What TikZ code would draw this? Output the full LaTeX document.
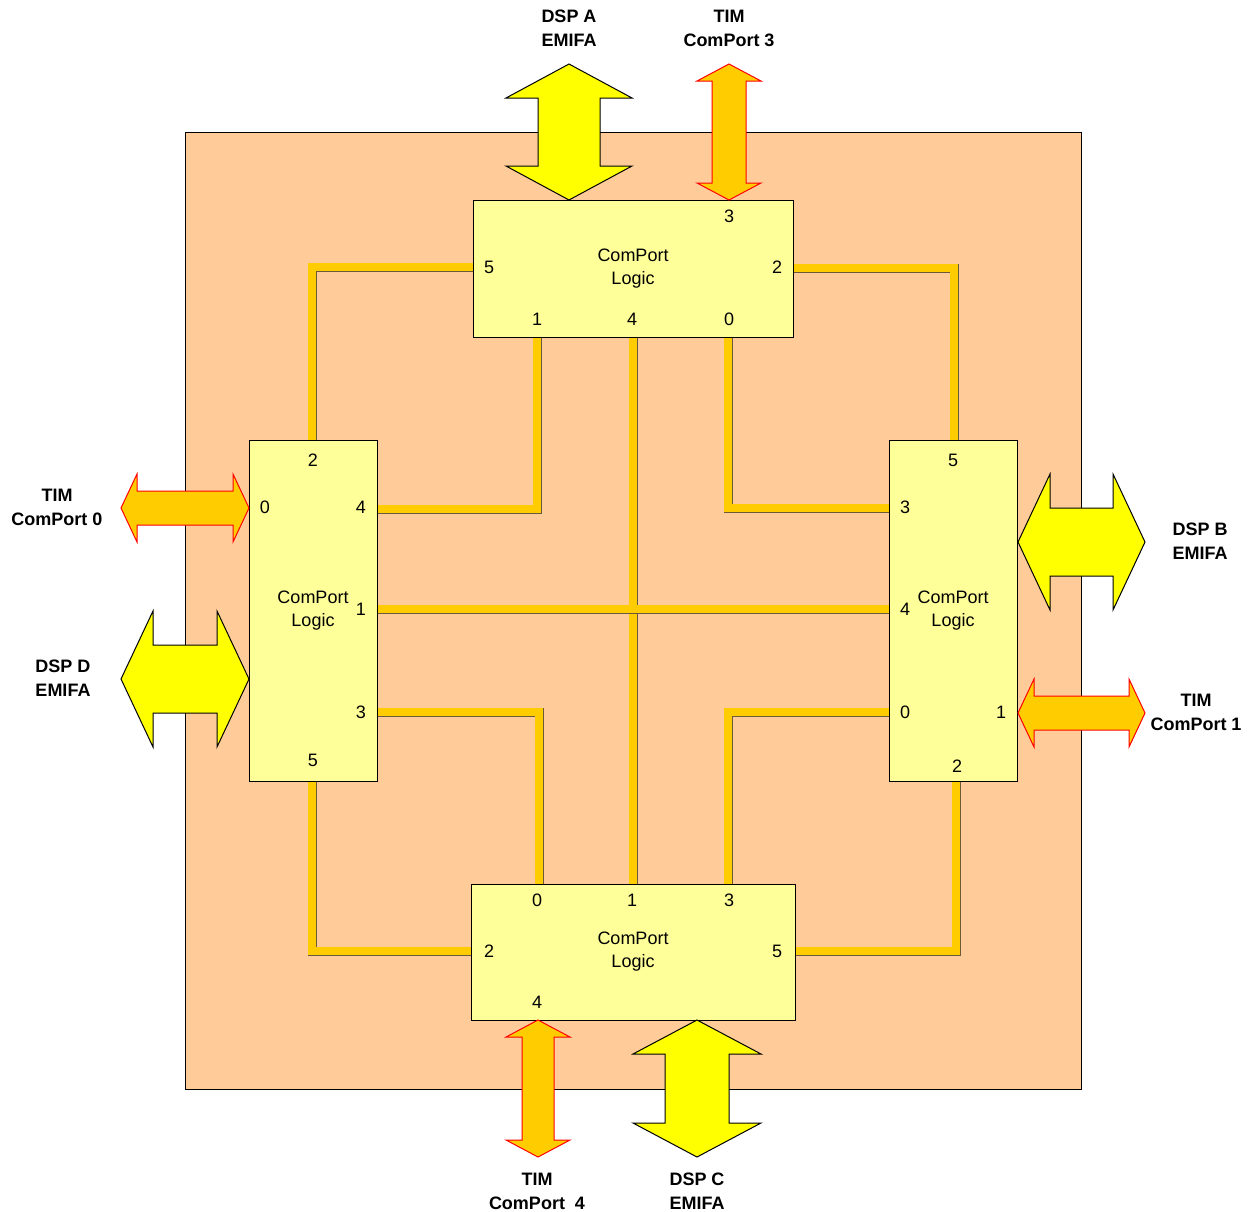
\documentclass[tikz,border=0pt]{standalone}
\usepackage{fontspec}
\setmainfont{Liberation Sans}
\definecolor{bgorange}{HTML}{FFCC99}
\definecolor{boxyellow}{HTML}{FFFF99}
\definecolor{wireyellow}{HTML}{FFCC00}
\definecolor{arryellow}{HTML}{FFFF00}
\definecolor{shadowc}{HTML}{6B5A3A}
\newcommand\varrow[7]{% style, cx, ytop, ybot, hw, sw, hl
\draw[#1] (#2,#3) -- (#2+#5,#3+#7) -- (#2+#6,#3+#7) -- (#2+#6,#4-#7) -- (#2+#5,#4-#7) -- (#2,#4) -- (#2-#5,#4-#7) -- (#2-#6,#4-#7) -- (#2-#6,#3+#7) -- (#2-#5,#3+#7) -- cycle;}
\newcommand\harrow[7]{% style, cy, xleft, xright, hw, sw, hl
\draw[#1] (#3,#2) -- (#3+#7,#2-#5) -- (#3+#7,#2-#6) -- (#4-#7,#2-#6) -- (#4-#7,#2-#5) -- (#4,#2) -- (#4-#7,#2+#5) -- (#4-#7,#2+#6) -- (#3+#7,#2+#6) -- (#3+#7,#2+#5) -- cycle;}
\newcommand\wirepath[1]{\draw[wireshadow] #1; \draw[wire] #1;}
\begin{document}
\begin{tikzpicture}[x=1pt,y=-1pt,
 box/.style={draw=black,line width=1pt,fill=boxyellow,inner sep=0pt,align=center,font=\fontsize{18}{23}\selectfont},
 num/.style={font=\fontsize{18}{20}\selectfont,inner sep=0pt},
 lbl/.style={font=\bfseries\fontsize{18}{24}\selectfont,align=center,inner sep=0pt},
 wire/.style={line width=7.5pt,draw=wireyellow,line join=miter},
 wireshadow/.style={line width=9pt,draw=shadowc,line join=miter},
 bigarr/.style={fill=arryellow,draw=black,line width=1pt,line join=miter},
 smallarr/.style={fill=wireyellow,draw=red,line width=1pt,line join=miter}]
\useasboundingbox (0,0) rectangle (1255,1211);
\draw[fill=bgorange,line width=1pt] (185,132) rectangle (1081,1089);

% boxes (positions only; drawn later on top of wires)
\path (633,268.5) coordinate (Tc) (313,610.5) coordinate (Lc) (953,610.5) coordinate (Rc) (633,952) coordinate (Bc);
\node[box,minimum width=320pt,minimum height=137pt,draw=none,fill=none] (T) at (Tc) {};
\node[box,minimum width=128pt,minimum height=341pt,draw=none,fill=none] (L) at (Lc) {};
\node[box,minimum width=128pt,minimum height=341pt,draw=none,fill=none] (R) at (Rc) {};
\node[box,minimum width=324pt,minimum height=136pt,draw=none,fill=none] (B) at (Bc) {};

% ports
\coordinate (T5) at (T.west |- 0,267);
\coordinate (T2) at (T.east |- 0,268);
\coordinate (T1) at (T.south -| 537,0);
\coordinate (T4) at (T.south -| 633,0);
\coordinate (T0) at (T.south -| 728,0);
\coordinate (L2) at (L.north -| 312,0);
\coordinate (L4) at (L.east |- 0,509);
\coordinate (L1) at (L.east |- 0,609);
\coordinate (L3) at (L.east |- 0,712);
\coordinate (L5) at (L.south -| 312,0);
\coordinate (R5) at (R.north -| 954,0);
\coordinate (R3) at (R.west |- 0,508);
\coordinate (R4) at (R.west |- 0,609);
\coordinate (R0) at (R.west |- 0,712);
\coordinate (R2) at (R.south -| 956,0);
\coordinate (B0) at (B.north -| 539,0);
\coordinate (B1) at (B.north -| 633,0);
\coordinate (B3) at (B.north -| 728,0);
\coordinate (B2) at (B.west |- 0,951);
\coordinate (B5) at (B.east |- 0,951);

% wires
\wirepath{(T5) -| (L2)}
\wirepath{(T2) -| (R5)}
\wirepath{(T1) |- (L4)}
\wirepath{(T0) |- (R3)}
\wirepath{(T4) -- (B1)}
\wirepath{(L1) -- (R4)}
\wirepath{(L3) -| (B0)}
\wirepath{(R0) -| (B3)}
\wirepath{(L5) |- (B2)}
\wirepath{(R2) |- (B5)}

% boxes
\node[box,minimum width=320pt,minimum height=137pt] (T') at (Tc) {ComPort\\Logic};
\node[box,minimum width=128pt,minimum height=341pt] (L') at (Lc) {ComPort\\Logic};
\node[box,minimum width=128pt,minimum height=341pt] (R') at (Rc) {ComPort\\Logic};
\node[box,minimum width=324pt,minimum height=136pt] (B') at (Bc) {ComPort\\Logic};

% port numbers
\node[num] (nT3) at (729,216) {3};
\node[num] (nT5) at (489,267) {5};
\node[num] (nT2) at (777,267) {2};
\node[num] (nT1) at (537,319) {1};
\node[num] (nT4) at (632,319) {4};
\node[num] (nT0) at (729,319) {0};
\node[num] (nL2) at (313,460) {2};
\node[num] (nL0) at (265,507) {0};
\node[num] (nL4) at (361,507) {4};
\node[num] (nL1) at (361,609) {1};
\node[num] (nL3) at (361,712) {3};
\node[num] (nL5) at (313,760) {5};
\node[num] (nR5) at (953,460) {5};
\node[num] (nR3) at (905,507) {3};
\node[num] (nR4) at (905,609) {4};
\node[num] (nR0) at (905,712) {0};
\node[num] (nR1) at (1001,712) {1};
\node[num] (nR2) at (957,766) {2};
\node[num] (nB0) at (537,900) {0};
\node[num] (nB1) at (632,900) {1};
\node[num] (nB3) at (729,900) {3};
\node[num] (nB2) at (489,951) {2};
\node[num] (nB5) at (777,951) {5};
\node[num] (nB4) at (537,1002) {4};

% external arrows
\varrow{bigarr}{569}{64}{200}{63}{31}{34}
\varrow{smallarr}{729}{64}{200}{32}{17}{17}
\harrow{smallarr}{508}{121}{249}{34}{17}{16}
\harrow{bigarr}{679}{121}{249}{68}{34}{32}
\harrow{bigarr}{542}{1018}{1145}{68}{34}{32}
\harrow{smallarr}{713}{1018}{1145}{34}{17}{16}
\varrow{smallarr}{538}{1020}{1157}{32}{16}{17}
\varrow{bigarr}{697}{1020}{1157}{64}{32}{34}

% external labels
\node[lbl] (la) at (569,28) {DSP A\\EMIFA};
\node[lbl] (l3) at (729,28) {TIM\\ComPort 3};
\node[lbl] (l0) at (57,507) {TIM\\ComPort 0};
\node[lbl] (ld) at (63,678) {DSP D\\EMIFA};
\node[lbl] (lb) at (1200,541) {DSP B\\EMIFA};
\node[lbl] (l1) at (1196,712) {TIM\\ComPort 1};
\node[lbl] (l4) at (537,1191) {TIM\\ComPort\ \ 4};
\node[lbl] (lc) at (697,1191) {DSP C\\EMIFA};
\end{tikzpicture}
\end{document}
